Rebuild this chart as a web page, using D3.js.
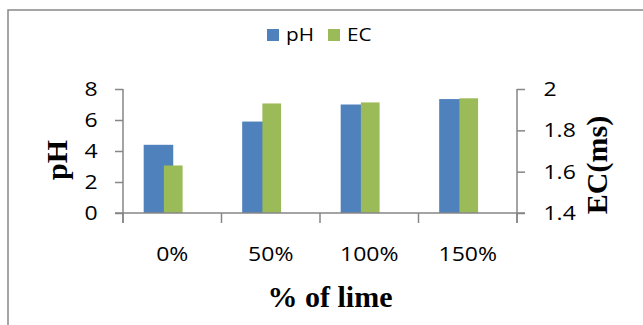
<!DOCTYPE html>
<html><head><meta charset="utf-8">
<script src="https://cdn.jsdelivr.net/npm/d3@7"></script>
<style>body{margin:0;background:#fff}svg{display:block}</style>
</head><body>
<svg id="c" width="643" height="325"></svg>
<script>
const categories = ["0%", "50%", "100%", "150%"];
const phValues = [4.4, 5.9, 7.0, 7.35];
const ecValues = [1.63, 1.93, 1.935, 1.955];
const phTicks = [0, 2, 4, 6, 8];
const ecTicks = [1.4, 1.6, 1.8, 2.0];
const seriesNames = ["pH", "EC"];
const colors = ["#4F81BD", "#9BBB59"];

const svg = d3.select("#c");
const axisColor = "#868686";
const sansFont = "'Open Sans', sans-serif";
const serifFont = "'Liberation Serif', 'Times New Roman', serif";
const tickFontSize = 20, tickScale = 1.15;

// outer border
svg.append("rect").attr("x", 8).attr("y", 10).attr("width", 700).attr("height", 400)
  .attr("fill", "none").attr("stroke", "#888").attr("stroke-width", 1.5);

const pLeft = 123, pRight = 517, pTop = 89, pBottom = 213;
const x = d3.scaleBand().domain(categories).range([pLeft, pRight]).paddingInner(0).paddingOuter(0);
const yL = d3.scaleLinear().domain([0, 8]).range([pBottom, pTop]);
const yR = d3.scaleLinear().domain([1.4, 2.0]).range([pBottom, pTop]);
const bw = x.bandwidth();

// bars (pH behind, EC on top)
svg.append("g").selectAll("rect").data(phValues).join("rect")
  .attr("x", (d, i) => x(categories[i]) + 0.21 * bw)
  .attr("width", 0.3 * bw)
  .attr("y", d => yL(d))
  .attr("height", d => yL(0) - yL(d))
  .attr("fill", colors[0]);
svg.append("g").selectAll("rect").data(ecValues).join("rect")
  .attr("x", (d, i) => x(categories[i]) + 0.415 * bw)
  .attr("width", 0.19 * bw)
  .attr("y", d => yR(d))
  .attr("height", d => yR(1.4) - yR(d))
  .attr("fill", colors[1]);

function styleAxis(g) {
  g.selectAll("path,line").attr("stroke", axisColor).attr("stroke-width", 1.5);
  g.selectAll("text").attr("fill", "#000").attr("font-family", sansFont).attr("font-size", tickFontSize);
}

// left axis
const gl = svg.append("g").attr("transform", `translate(${pLeft},0)`)
  .call(d3.axisLeft(yL).tickValues(phTicks).tickSize(8).tickPadding(14).tickFormat(d3.format("d")));
styleAxis(gl);
gl.select(".domain").remove();
gl.append("line").attr("x1", 0).attr("x2", 0).attr("y1", pTop).attr("y2", pBottom + 10)
  .attr("stroke", axisColor).attr("stroke-width", 1.5);
gl.selectAll("text").attr("transform", `scale(${tickScale},1)`);

// right axis
const gr = svg.append("g").attr("transform", `translate(${pRight},0)`)
  .call(d3.axisRight(yR).tickValues(ecTicks).tickSize(8).tickPadding(15).tickFormat(d => d === 2 ? "2" : d3.format(".1f")(d)));
styleAxis(gr);
gr.select(".domain").remove();
gr.append("line").attr("x1", 0).attr("x2", 0).attr("y1", pTop).attr("y2", pBottom + 10)
  .attr("stroke", axisColor).attr("stroke-width", 1.5);
gr.selectAll("text").attr("transform", `scale(${tickScale},1)`);

// bottom axis
svg.append("line").attr("x1", pLeft - 8).attr("x2", pRight + 8).attr("y1", pBottom).attr("y2", pBottom)
  .attr("stroke", axisColor).attr("stroke-width", 1.5);
const boundaries = categories.map(c => x(c)).concat([pRight]);
svg.append("g").selectAll("line").data(boundaries).join("line")
  .attr("x1", d => d).attr("x2", d => d).attr("y1", pBottom).attr("y2", pBottom + 10)
  .attr("stroke", axisColor).attr("stroke-width", 1.5);
svg.append("g").selectAll("text").data(categories).join("text")
  .attr("transform", d => `translate(${x(d) + bw / 2},261) scale(${tickScale},1)`)
  .attr("text-anchor", "middle")
  .attr("font-family", sansFont).attr("font-size", tickFontSize).attr("fill", "#000")
  .text(d => d);

// axis titles
svg.append("text").attr("transform", "translate(67,160) rotate(-90)")
  .attr("text-anchor", "middle").attr("font-family", serifFont).attr("font-weight", "bold")
  .attr("font-size", 30).attr("fill", "#000").text("pH");
svg.append("text").attr("transform", "translate(607,165) rotate(-90)")
  .attr("text-anchor", "middle").attr("font-family", serifFont).attr("font-weight", "bold")
  .attr("font-size", 30).attr("fill", "#000").text("EC(ms)");
svg.append("text").attr("x", (pLeft + pRight) / 2 + 10).attr("y", 307)
  .attr("text-anchor", "middle").attr("font-family", serifFont).attr("font-weight", "bold")
  .attr("font-size", 30).attr("fill", "#000").text("% of lime");

// legend
const legendX = [267, 328];
const lg = svg.append("g");
seriesNames.forEach((name, i) => {
  lg.append("rect").attr("x", legendX[i]).attr("y", 29).attr("width", 12).attr("height", 12).attr("fill", colors[i]);
  lg.append("text").attr("transform", `translate(${legendX[i] + 19},41) scale(1.15,1)`)
    .attr("font-family", sansFont).attr("font-size", 18).attr("fill", "#000").text(name);
});
</script>
</body></html>
